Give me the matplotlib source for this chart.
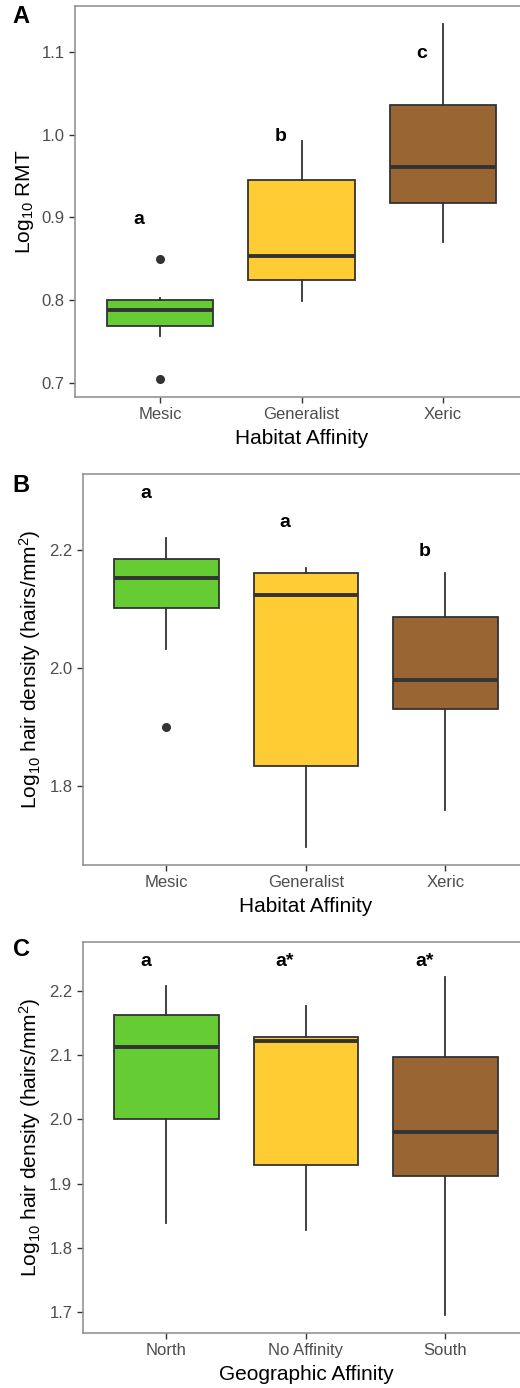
import matplotlib
matplotlib.use('Agg')
import matplotlib.pyplot as plt

plt.rcParams['font.family'] = ['Liberation Sans', 'DejaVu Sans']
plt.rcParams['mathtext.default'] = 'regular'

# colours per group (same order in every panel)
fill_colors = ['#66CC33', '#FFCC33', '#996633']
edge_color = '#333333'

# Panel A: Log10 RMT by habitat affinity
habitat = ['Mesic', 'Generalist', 'Xeric']
rmt_q1 = [0.769, 0.825, 0.918]
rmt_med = [0.789, 0.854, 0.961]
rmt_q3 = [0.800, 0.945, 1.036]
rmt_lo = [0.757, 0.799, 0.870]
rmt_hi = [0.803, 0.992, 1.133]
rmt_out = [[0.850, 0.705], [], []]
rmt_letters = ['a', 'b', 'c']
rmt_letter_y = [0.897, 0.998, 1.098]

# Panel B: hair density by habitat affinity
hab_q1 = [2.101, 1.834, 1.930]
hab_med = [2.153, 2.124, 1.980]
hab_q3 = [2.185, 2.161, 2.086]
hab_lo = [2.033, 1.696, 1.759]
hab_hi = [2.221, 2.170, 2.161]
hab_out = [[1.900], [], []]
hab_letters = ['a', 'a', 'b']
hab_letter_y = [2.296, 2.247, 2.197]

# Panel C: hair density by geographic affinity
geo = ['North', 'No Affinity', 'South']
geo_q1 = [2.000, 1.929, 1.912]
geo_med = [2.113, 2.122, 1.981]
geo_q3 = [2.162, 2.128, 2.097]
geo_lo = [1.839, 1.828, 1.695]
geo_hi = [2.207, 2.177, 2.221]
geo_out = [[], [], []]
geo_letters = ['a', 'a*', 'a*']
geo_letter_y = [2.246, 2.246, 2.246]


def make_stats(q1, med, q3, lo, hi, out):
    return [dict(q1=a, med=b, q3=c, whislo=d, whishi=e, fliers=f)
            for a, b, c, d, e, f in zip(q1, med, q3, lo, hi, out)]


def draw_panel(ax, stats, cats, letters, letter_y, xlabel, ylabel, yticks, ylim, tag):
    bp = ax.bxp(stats, positions=range(len(stats)), widths=0.75, patch_artist=True,
                showcaps=False,
                boxprops=dict(edgecolor=edge_color, linewidth=1.3),
                medianprops=dict(color=edge_color, linewidth=2.8, solid_capstyle='butt'),
                whiskerprops=dict(color=edge_color, linewidth=1.3),
                flierprops=dict(marker='o', markerfacecolor=edge_color,
                                markeredgecolor=edge_color, markersize=5.5))
    for patch, col in zip(bp['boxes'], fill_colors):
        patch.set_facecolor(col)
    for i, (lab, y) in enumerate(zip(letters, letter_y)):
        ax.text(i - 0.15, y, lab, ha='center', va='center',
                fontsize=14, fontweight='bold', color='black')
    ax.set_xlim(-0.6, 2.6)
    ax.set_ylim(*ylim)
    ax.set_xticks(range(len(cats)))
    ax.set_xticklabels(cats)
    ax.set_yticks(yticks)
    ax.set_yticklabels([f'{t:.1f}' for t in yticks])
    ax.tick_params(colors='#333333', labelcolor='#4D4D4D', labelsize=12,
                   length=4, width=1.0)
    for s in ax.spines.values():
        s.set_color('#8C8C8C')
        s.set_linewidth(1.1)
    ax.set_xlabel(xlabel, fontsize=15, labelpad=5)
    ax.set_ylabel(ylabel, fontsize=15, labelpad=4)
    ax.figure.text(0.041, tag[1], tag[0], fontsize=17, fontweight='bold',
                   ha='center', va='center')


fig = plt.figure(figsize=(5.2, 13.88), dpi=100)
H = 1388.0

axA = fig.add_axes([75 / 520, 1 - 397 / H, 453 / 520, 391 / H])
axB = fig.add_axes([82.7 / 520, 1 - 865 / H, 446.4 / 520, 391 / H])
axC = fig.add_axes([82.7 / 520, 1 - 1332.7 / H, 446.4 / 520, 390.7 / H])

draw_panel(axA, make_stats(rmt_q1, rmt_med, rmt_q3, rmt_lo, rmt_hi, rmt_out),
           habitat, rmt_letters, rmt_letter_y, 'Habitat Affinity',
           'Log$_{10}$ RMT', [0.7, 0.8, 0.9, 1.0, 1.1], (0.6835, 1.155),
           ('A', 1 - 16.5 / H))
draw_panel(axB, make_stats(hab_q1, hab_med, hab_q3, hab_lo, hab_hi, hab_out),
           habitat, hab_letters, hab_letter_y, 'Habitat Affinity',
           'Log$_{10}$ hair density (hairs/mm$^{2}$)', [1.8, 2.0, 2.2], (1.666, 2.329),
           ('B', 1 - 485 / H))
draw_panel(axC, make_stats(geo_q1, geo_med, geo_q3, geo_lo, geo_hi, geo_out),
           geo, geo_letters, geo_letter_y, 'Geographic Affinity',
           'Log$_{10}$ hair density (hairs/mm$^{2}$)', [1.7, 1.8, 1.9, 2.0, 2.1, 2.2],
           (1.668, 2.276), ('C', 1 - 950 / H))

fig.savefig('out.png', dpi=100, facecolor='white')
